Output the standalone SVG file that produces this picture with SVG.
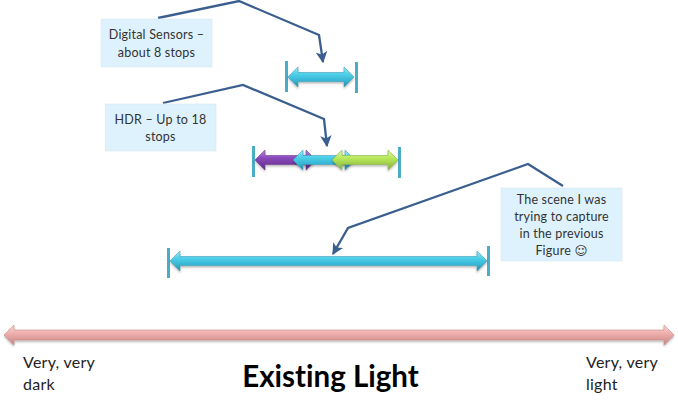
<svg xmlns="http://www.w3.org/2000/svg" width="678" height="416" viewBox="0 0 678 416">
<style>
text{font-family:Lato,"Liberation Sans",sans-serif;fill:#1a1a1a;font-variant-ligatures:none}
.c{font-size:12.500px;text-anchor:middle;fill:#333;letter-spacing:.2px}
.l{font-size:16px;fill:#222;letter-spacing:.25px}
.box{fill:#def2fd;stroke:#d3e6f2;stroke-width:.6}
.conn{fill:none;stroke:#3a5f8f;stroke-width:2.300;stroke-linejoin:miter}
.tick{stroke:#4bacc6;stroke-width:3}
.cy{fill:url(#gc);stroke:#3f9fb8;stroke-width:.6}
.pu{fill:url(#gp);stroke:#6f3c98;stroke-width:.6}
.gr{fill:url(#gg);stroke:#8cb648;stroke-width:.6}
.pi{fill:url(#gr);stroke:#c88a88;stroke-width:.6}
.sh{filter:url(#s)}
</style>
<defs>
<linearGradient id="gc" x1="0" y1="0" x2="0" y2="1"><stop offset="0" stop-color="#a0ecf8"/><stop offset=".35" stop-color="#4fd0ea"/><stop offset=".7" stop-color="#35b4d2"/><stop offset="1" stop-color="#2a84a0"/></linearGradient>
<linearGradient id="gp" x1="0" y1="0" x2="0" y2="1"><stop offset="0" stop-color="#b98ade"/><stop offset=".4" stop-color="#8a48b8"/><stop offset="1" stop-color="#5f2c86"/></linearGradient>
<linearGradient id="gg" x1="0" y1="0" x2="0" y2="1"><stop offset="0" stop-color="#e0f6a0"/><stop offset=".45" stop-color="#b4e658"/><stop offset="1" stop-color="#84ad3e"/></linearGradient>
<linearGradient id="gr" x1="0" y1="0" x2="0" y2="1"><stop offset="0" stop-color="#fadcda"/><stop offset=".4" stop-color="#efb0ae"/><stop offset="1" stop-color="#c98583"/></linearGradient>
<filter id="s" x="-5%" y="-40%" width="110%" height="190%"><feDropShadow dx="0" dy="1.500" stdDeviation="1" flood-color="#000" flood-opacity=".3"/></filter>
<marker id="ah" viewBox="0 0 10 10" refX="9" refY="5" markerWidth="5" markerHeight="5" orient="auto"><path d="M0 0L10 5L0 10L2.500 5Z" fill="#3a5f8f"/></marker>
</defs>

<g id="range-sensors">
<line class="tick" x1="286.500" y1="61" x2="286.500" y2="92"/>
<line class="tick" x1="356.500" y1="62" x2="356.500" y2="93"/>
<path class="cy sh" d="M288 77L298 67V72.500H344V67L354 77L344 87V81.500H298V87Z"/>
</g>

<g id="range-hdr">
<line class="tick" x1="253.500" y1="146" x2="253.500" y2="177"/>
<line class="tick" x1="399.500" y1="147" x2="399.500" y2="178"/>
<path class="pu sh" d="M255 160L265 150V155.500H306V150L316 160L306 170V164.500H265V170Z"/>
<path class="cy sh" d="M293 160L303 150V155.500H345V150L355 160L345 170V164.500H303V170Z"/>
<path class="gr sh" d="M332 160L342 150V155.500H388V150L398 160L388 170V164.500H342V170Z"/>
</g>

<g id="range-scene">
<line class="tick" x1="168.500" y1="248" x2="168.500" y2="278"/>
<line class="tick" x1="488.500" y1="246" x2="488.500" y2="276"/>
<path class="cy sh" d="M170 261L180 251V256.500H477V251L487 261L477 271V265.500H180V271Z"/>
</g>

<g id="range-light">
<path class="pi sh" d="M4 335L14 325V330H664V325L674 335L664 345V340H14V345Z"/>
</g>

<g id="connectors">
<path class="conn" marker-end="url(#ah)" d="M158 18L239 1L319 35L323 62"/>
<path class="conn" marker-end="url(#ah)" d="M163 103L243 85L324 119L327 146"/>
<path class="conn" marker-end="url(#ah)" d="M563 186L528 164L348 228L333 254"/>
</g>

<g id="note-sensors">
<rect class="box" x="101" y="19" width="111" height="48"/>
<text class="c" x="156.500" y="39">Digital Sensors –</text>
<text class="c" x="156.500" y="57">about 8 stops</text>
</g>

<g id="note-hdr">
<rect class="box" x="105.500" y="104" width="110.500" height="47"/>
<text class="c" x="160.500" y="124">HDR – Up to 18</text>
<text class="c" x="160.500" y="141">stops</text>
</g>

<g id="note-scene">
<rect class="box" x="501" y="188" width="121" height="73"/>
<text class="c" x="561.500" y="204">The scene I was</text>
<text class="c" x="561.500" y="221">trying to capture</text>
<text class="c" x="561.500" y="238">in the previous</text>
<text class="c" x="561.500" y="255">Figure <tspan style="font-family:'DejaVu Sans',sans-serif">☺</tspan></text>
</g>

<g id="label-dark">
<text class="l" x="23" y="368">Very, very</text>
<text class="l" x="23" y="390">dark</text>
</g>
<g id="label-light">
<text class="l" x="586" y="368">Very, very</text>
<text class="l" x="586" y="390">light</text>
</g>
<g id="label-title">
<text x="330.500" y="387" text-anchor="middle" style="font-size:29.500px;font-weight:700;fill:#000">Existing Light</text>
</g>
</svg>
